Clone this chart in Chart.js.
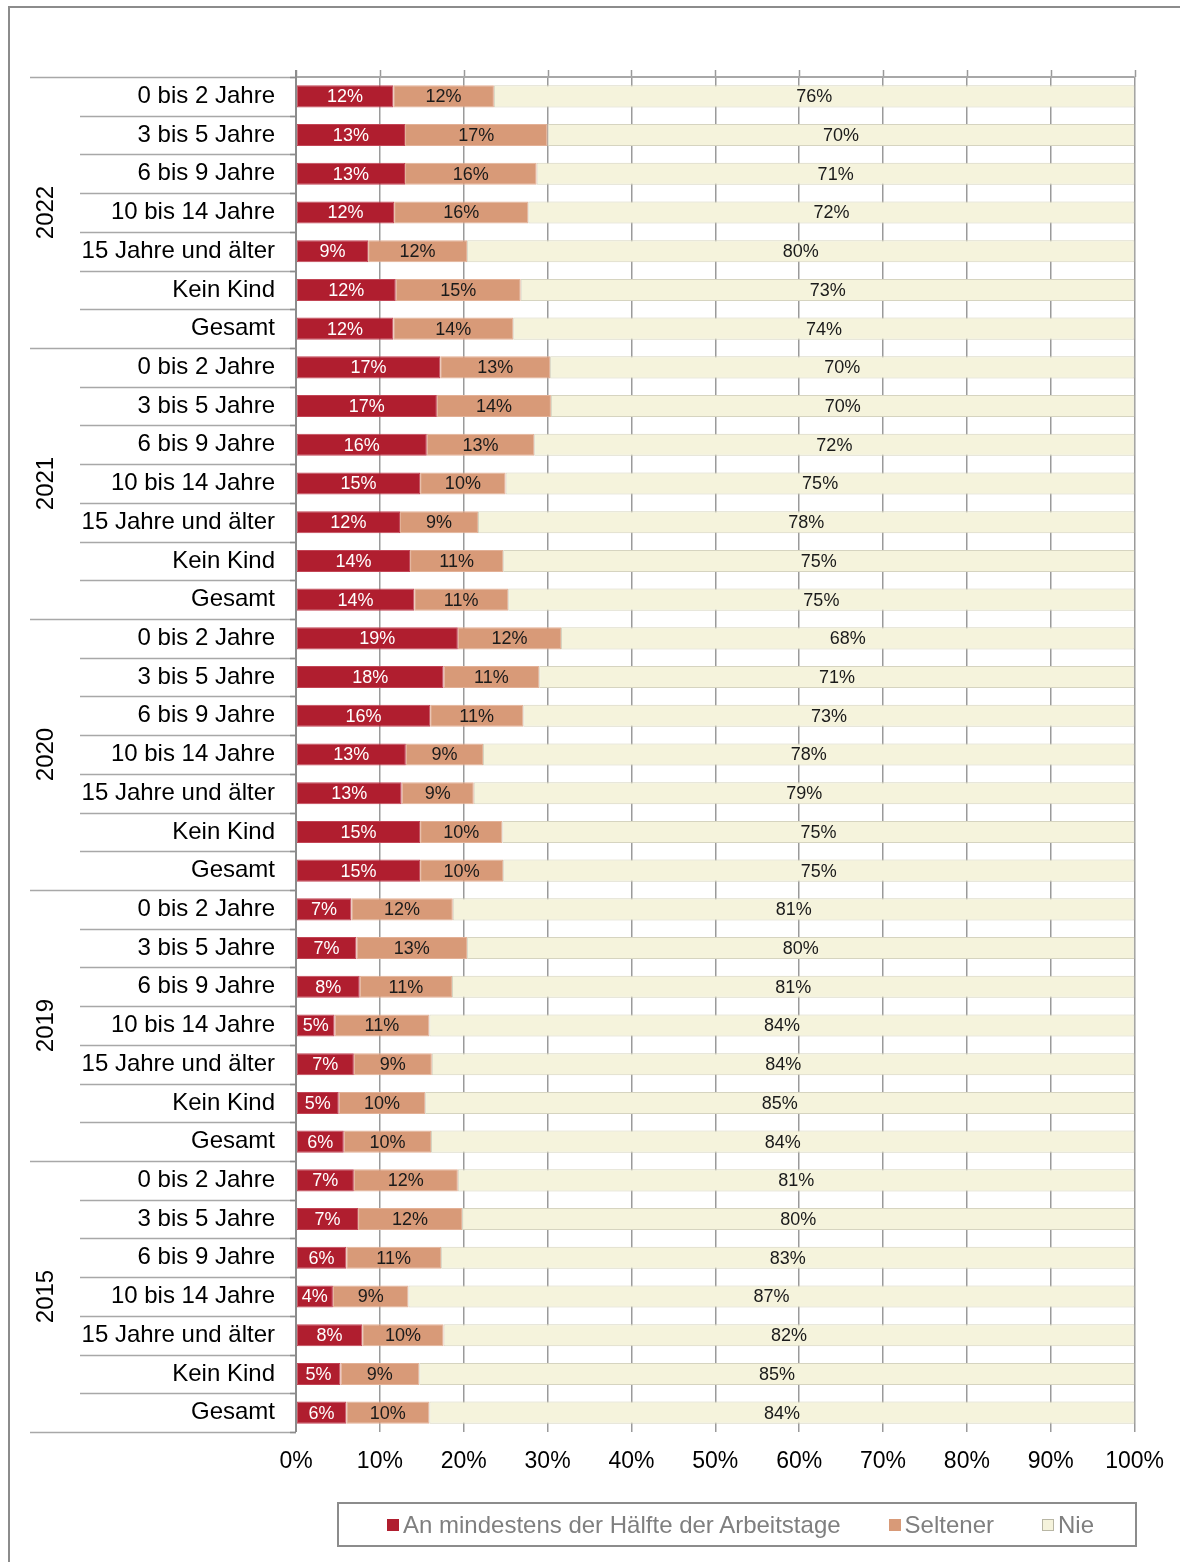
<!DOCTYPE html>
<html lang="de">
<head>
<meta charset="utf-8">
<title>Arbeitstage</title>
<script src="https://cdn.jsdelivr.net/npm/chart.js@4.4.1/dist/chart.umd.min.js"></script>
<style>
  html, body { margin: 0; padding: 0; background: #fff; overflow: hidden; }
  body { width: 1180px; height: 1562px; position: relative; font-family: "Liberation Sans", Arial, sans-serif; }
  #frame { position: absolute; left: 8px; top: 6px; width: 1300px; height: 1700px; border-left: 2px solid #8c8c8c; border-top: 2px solid #8c8c8c; }
  #chart { position: absolute; left: 0; top: 0; }
  #legend { position: absolute; left: 337px; top: 1502px; height: 41px; border: 2px solid #8c8c8c;
    display: flex; align-items: center; padding-left: 48px; box-sizing: content-box; width: 748px; white-space: nowrap; }
  #legend .item { display: flex; align-items: center; margin-right: 48px; color: #7f7f7f; font-size: 24px; white-space: nowrap; flex: none; }
  #legend .sw { width: 12px; height: 12px; margin-right: 4px; box-sizing: border-box; flex: none; }
</style>
</head>
<body>
<div id="frame"></div>
<canvas id="chart" width="1180" height="1562"></canvas>
<div id="legend"></div>
<script>
// Data
const years = ['2022', '2021', '2020', '2019', '2015'];
const categories = ['0 bis 2 Jahre', '3 bis 5 Jahre', '6 bis 9 Jahre', '10 bis 14 Jahre', '15 Jahre und älter', 'Kein Kind', 'Gesamt'];
const seriesNames = ['An mindestens der Hälfte der Arbeitstage', 'Seltener', 'Nie'];

// An mindestens der Hälfte der Arbeitstage (%)
const haelfte = [
  11.6, 13.0, 13.0, 11.7, 8.6, 11.9, 11.6,   // 2022
  17.2, 16.8, 15.6, 14.8, 12.4, 13.6, 14.1,  // 2021
  19.3, 17.6, 16.0, 13.1, 12.6, 14.8, 14.8,  // 2020
  6.6, 7.2, 7.6, 4.6, 6.9, 5.1, 5.7,         // 2019
  6.9, 7.4, 6.0, 4.4, 7.9, 5.3, 6.0          // 2015
];
// Seltener (%)
const seltener = [
  12.0, 17.0, 15.7, 16.0, 11.8, 14.9, 14.3,
  13.1, 13.6, 12.8, 10.2, 9.3, 11.1, 11.2,
  12.3, 11.4, 11.1, 9.2, 8.6, 9.8, 9.9,
  12.1, 13.2, 11.0, 11.3, 9.3, 10.3, 10.4,
  12.4, 12.4, 11.3, 9.0, 9.7, 9.4, 9.9
];
// Nie (%)
const nie = [
  76.4, 70.0, 71.3, 72.3, 79.6, 73.2, 74.1,
  69.7, 69.6, 71.6, 75.0, 78.3, 75.3, 74.7,
  68.4, 71.0, 72.9, 77.7, 78.8, 75.4, 75.3,
  81.3, 79.6, 81.4, 84.1, 83.8, 84.6, 83.9,
  80.7, 80.2, 82.7, 86.6, 82.4, 85.3, 84.1
];
const xTicks = [0, 10, 20, 30, 40, 50, 60, 70, 80, 90, 100];

const FONT = '"Liberation Sans", Arial, sans-serif';
const colors = ['#b01e2f', '#d89a78', '#f5f3dc'];
const borders = ['#c24555', '#e2b096', '#d6d4c0'];
const labelColors = ['#ffffff', '#1a1a1a', '#1a1a1a'];

const rowLabels = years.flatMap(() => categories);

// Draws the in-bar percentages
const barLabels = {
  id: 'barLabels',
  afterDatasetsDraw(chart) {
    const ctx = chart.ctx;
    ctx.save();
    ctx.font = '18px ' + FONT;
    ctx.textAlign = 'center';
    ctx.textBaseline = 'middle';
    chart.data.datasets.forEach((ds, di) => {
      const meta = chart.getDatasetMeta(di);
      ctx.fillStyle = labelColors[di];
      meta.data.forEach((bar, i) => {
        const cx = (bar.x + bar.base) / 2;
        ctx.fillText(Math.round(ds.data[i]) + '%', cx, bar.y + 1);
      });
    });
    ctx.restore();
  }
};

// Separators, year labels, top border and axis line
const frameLines = {
  id: 'frameLines',
  beforeDatasetsDraw(chart) {
    const ctx = chart.ctx;
    const area = chart.chartArea;
    const x = chart.scales.x;
    ctx.save();
    // top stubs of the grid lines and top border
    ctx.strokeStyle = '#9a9a9a';
    ctx.lineWidth = 1.5;
    xTicks.forEach(v => {
      const px = Math.round(x.getPixelForValue(v)) + 0.5;
      ctx.beginPath();
      ctx.moveTo(px, area.top - 7);
      ctx.lineTo(px, area.top);
      ctx.stroke();
    });
    ctx.strokeStyle = '#a8a8a8';
    ctx.lineWidth = 2;
    ctx.beginPath();
    ctx.moveTo(area.left, area.top);
    ctx.lineTo(area.right, area.top);
    ctx.stroke();
    ctx.restore();
  },
  afterDraw(chart) {
    const ctx = chart.ctx;
    const area = chart.chartArea;
    const y = chart.scales.y;
    const band = (area.bottom - area.top) / rowLabels.length;
    ctx.save();
    // category separators
    ctx.lineWidth = 1.5;
    for (let i = 0; i <= rowLabels.length; i++) {
      const py = Math.round(y.getPixelForValue(i) - band / 2) + 0.5;
      const startX = i % categories.length === 0 ? 30 : 80;
      ctx.strokeStyle = '#a8a8a8';
      ctx.beginPath();
      ctx.moveTo(startX, py);
      ctx.lineTo(area.left, py);
      ctx.stroke();
      ctx.strokeStyle = '#8c8c8c';
      ctx.beginPath();
      ctx.moveTo(area.left - 6, py);
      ctx.lineTo(area.left, py);
      ctx.stroke();
    }
    // y axis line
    ctx.strokeStyle = '#8c8c8c';
    ctx.lineWidth = 2;
    ctx.beginPath();
    ctx.moveTo(area.left, area.top - 7);
    ctx.lineTo(area.left, area.bottom);
    ctx.stroke();
    // year labels
    ctx.fillStyle = '#000';
    ctx.font = '24px ' + FONT;
    ctx.textAlign = 'center';
    ctx.textBaseline = 'middle';
    years.forEach((yr, g) => {
      const first = y.getPixelForValue(g * categories.length);
      const last = y.getPixelForValue((g + 1) * categories.length - 1);
      ctx.save();
      ctx.translate(46, (first + last) / 2);
      ctx.rotate(-Math.PI / 2);
      ctx.fillText(yr, 0, 0);
      ctx.restore();
    });
    ctx.restore();
  }
};

const seriesData = [haelfte, seltener, nie];

new Chart(document.getElementById('chart').getContext('2d'), {
  type: 'bar',
  data: {
    labels: rowLabels,
    datasets: seriesData.map((d, i) => ({
      label: seriesNames[i],
      data: d,
      backgroundColor: colors[i],
      borderColor: borders[i],
      borderWidth: 1,
      borderSkipped: false,
      barPercentage: 0.57,
      categoryPercentage: 1
    }))
  },
  options: {
    indexAxis: 'y',
    responsive: false,
    animation: false,
    layout: { padding: { left: 0, top: 77, right: 45, bottom: 0 } },
    plugins: {
      legend: { display: false },
      tooltip: { enabled: false }
    },
    scales: {
      x: {
        stacked: true,
        min: 0,
        max: 100,
        afterBuildTicks(scale) { scale.ticks = xTicks.map(v => ({ value: v })); },
        afterFit(scale) { scale.height = 130; },
        grid: { color: '#9a9a9a', lineWidth: 1.5, drawTicks: false },
        border: { display: false },
        ticks: {
          padding: 16,
          color: '#000',
          font: { family: FONT, size: 23 },
          callback: v => v + '%',
          maxRotation: 0
        }
      },
      y: {
        stacked: true,
        afterFit(scale) { scale.width = 296; },
        grid: { display: false, drawTicks: false },
        border: { display: false },
        ticks: {
          padding: 21,
          color: '#000',
          autoSkip: false,
          font: { family: FONT, size: 24 }
        }
      }
    }
  },
  plugins: [frameLines, barLabels]
});

// HTML legend
const legend = document.getElementById('legend');
legend.innerHTML = seriesNames.map((n, i) => `
  <div class="item"><span class="sw" style="background:${colors[i]};${i === 2 ? 'border:1px solid #b8b6a4;' : ''}"></span>${n}</div>
`).join('');
</script>
</body>
</html>
